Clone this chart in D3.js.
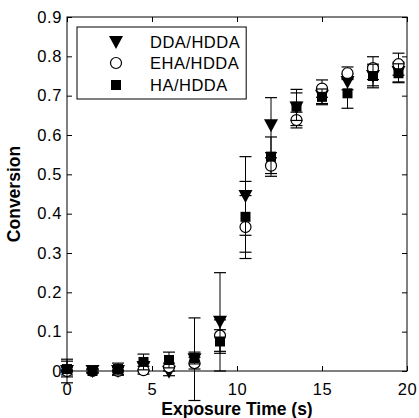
<!DOCTYPE html>
<html><head><meta charset="utf-8">
<script src="https://cdn.jsdelivr.net/npm/d3@7"></script>
<style>body{margin:0;background:#fff}svg{display:block}text{font-family:"Liberation Sans",Arial,sans-serif}</style>
</head><body><svg id="c" width="419" height="418"></svg>
<script>
const times = [0,1.5,3,4.5,6,7.5,9,10.5,12,13.5,15,16.5,18,19.5];
const ddaVals = [0,0,0,0.01,-0.002,0.03,0.125,0.445,0.625,0.67,0.70,0.735,0.75,0.76];
const ddaErr  = [0.01,0.005,0.01,0.01,0.01,0.105,0.125,0.10,0.07,0.046,0.02,0.02,0.025,0.025];
const ehaVals = [0,0,0,0.002,0.01,0.02,0.09,0.366,0.522,0.638,0.718,0.757,0.77,0.78];
const ehaErr  = [0.03,0.005,0.01,0.01,0.01,0.015,0.04,0.08,0.02,0.02,0.022,0.016,0.029,0.028];
const haVals  = [0.005,0,0.005,0.023,0.028,0.033,0.075,0.392,0.545,0.672,0.697,0.706,0.75,0.757];
const haErr   = [0.02,0.005,0.015,0.02,0.02,0.015,0.03,0.09,0.05,0.035,0.02,0.038,0.03,0.024];
const xTicks = [0,5,10,15,20];
const yTicks = [0,0.1,0.2,0.3,0.4,0.5,0.6,0.7,0.8,0.9];
const seriesNames = ["DDA/HDDA","EHA/HDDA","HA/HDDA"];

const svg = d3.select("#c");
const m = {l:67, r:12, t:17, b:47};
const W = 419 - m.l - m.r, H = 418 - m.t - m.b;
const x = d3.scaleLinear().domain([0,20]).range([m.l, m.l+W]);
const y = d3.scaleLinear().domain([0,0.9]).range([m.t+H, m.t]);

const series = [
  {name:seriesNames[0], vals:ddaVals, err:ddaErr, sym:"tri"},
  {name:seriesNames[1], vals:ehaVals, err:ehaErr, sym:"circ"},
  {name:seriesNames[2], vals:haVals, err:haErr, sym:"sq"}
];

const fs = "16.5px";
svg.append("g").attr("transform",`translate(0,${m.t+H})`)
  .call(d3.axisBottom(x).tickValues(xTicks).tickSize(-5).tickPadding(9).tickFormat(d3.format("d")))
  .call(g=>{g.select(".domain").remove(); g.selectAll("text").attr("font-size",fs).attr("fill","#000").attr("dy","0.9em").attr("letter-spacing","0.6px");});
svg.append("g").attr("transform",`translate(0,${m.t})`)
  .call(d3.axisTop(x).tickValues(xTicks).tickSize(-5).tickFormat(""))
  .call(g=>g.select(".domain").remove());
svg.append("g").attr("transform",`translate(${m.l},0)`)
  .call(d3.axisLeft(y).tickValues(yTicks).tickSize(-5).tickPadding(5).tickFormat(d=>d===0?"0":d3.format(".1f")(d)))
  .call(g=>{g.select(".domain").remove(); g.selectAll("text").attr("font-size",fs).attr("fill","#000").attr("letter-spacing","0.6px");});
svg.append("g").attr("transform",`translate(${m.l+W},0)`)
  .call(d3.axisRight(y).tickValues(yTicks).tickSize(-5).tickFormat(""))
  .call(g=>g.select(".domain").remove());
svg.append("rect").attr("x",m.l).attr("y",m.t).attr("width",W).attr("height",H)
  .attr("fill","none").attr("stroke","#000").attr("stroke-width",1);

function drawSym(g, sym, cx, cy) {
  if (sym==="tri") {
    g.append("path").attr("d",`M${cx-7},${cy-6}L${cx+7},${cy-6}L${cx},${cy+7}Z`).attr("fill","#000");
  } else if (sym==="circ") {
    g.append("circle").attr("cx",cx).attr("cy",cy).attr("r",5.5).attr("fill","#fff").attr("stroke","#000").attr("stroke-width",1.2);
  } else {
    g.append("rect").attr("x",cx-5).attr("y",cy-5).attr("width",10).attr("height",10).attr("fill","#000");
  }
}

const plot = svg.append("g");
series.forEach(s=>{
  const g = plot.append("g");
  times.forEach((t,i)=>{
    const cx = x(t), lo = y(s.vals[i]-s.err[i]), hi = y(s.vals[i]+s.err[i]);
    g.append("line").attr("x1",cx).attr("x2",cx).attr("y1",lo).attr("y2",hi).attr("stroke","#000").attr("stroke-width",1);
    [lo,hi].forEach(yy=>g.append("line").attr("x1",cx-6).attr("x2",cx+6).attr("y1",yy).attr("y2",yy).attr("stroke","#000").attr("stroke-width",1.2));
  });
  times.forEach((t,i)=>drawSym(g, s.sym, x(t), y(s.vals[i])));
});

const lg = svg.append("g");
const lx = 77, ly = 27;
const rows = [42,63,85];
let maxR = 0;
series.forEach((s,i)=>{
  drawSym(lg, s.sym, 116, rows[i]);
  const t = lg.append("text").attr("x",150).attr("y",rows[i]).attr("dy","0.36em").attr("font-size","16.5px").attr("letter-spacing","0.5px").text(s.name);
  maxR = Math.max(maxR, t.node().getBBox().x + t.node().getBBox().width);
});
lg.insert("rect",":first-child").attr("x",lx).attr("y",ly).attr("width",maxR+6-lx).attr("height",99-ly)
  .attr("fill","#fff").attr("stroke","#000").attr("stroke-width",1);

svg.append("text").attr("x",m.l+W/2).attr("y",415).attr("text-anchor","middle")
  .attr("font-size","17.5px").attr("font-weight","bold").text("Exposure Time (s)");
svg.append("text").attr("transform",`translate(20,${m.t+H/2}) rotate(-90)`).attr("text-anchor","middle")
  .attr("font-size","17.5px").attr("font-weight","bold").text("Conversion");
</script></body></html>
